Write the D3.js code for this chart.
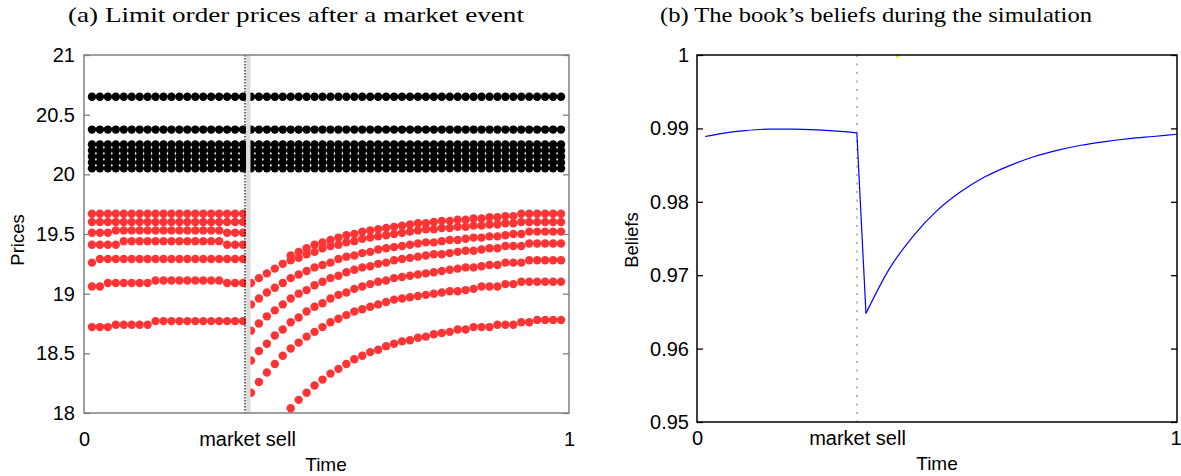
<!DOCTYPE html>
<html lang="en">
<head>
<meta charset="UTF-8"/>
<title>Limit order prices and the book's beliefs</title>
<script src="https://d3js.org/d3.v7.min.js"></script>
<style>
    body { margin: 0; background: #fff; }
    text { font-family: "Liberation Sans", Arial, sans-serif; fill: #000; }
    .title { font-family: "Liberation Serif", "DejaVu Serif", serif; }
</style>
</head>
<body>
<div id="chart"></div>
<script>

    // ---- panel (a): limit order prices, 60 time steps, market sell between step 19 and 20
    var nSteps = 60;
    var eventStep = 19.5;
    var askPrices = [20.05, 20.10, 20.15, 20.20, 20.25, 20.375, 20.65];

    // bid rows before the market sell (steps 0..19)
    var bidsBefore = [
        [19.67, 19.67, 19.67, 19.67, 19.67, 19.67, 19.67, 19.67, 19.67, 19.67, 19.67, 19.67, 19.67, 19.67, 19.67, 19.67, 19.67, 19.67, 19.67, 19.67],
        [19.60, 19.60, 19.60, 19.60, 19.60, 19.60, 19.60, 19.60, 19.60, 19.60, 19.60, 19.60, 19.60, 19.60, 19.60, 19.60, 19.60, 19.60, 19.60, 19.60],
        [19.51, 19.51, 19.51, 19.53, 19.53, 19.53, 19.53, 19.53, 19.53, 19.53, 19.53, 19.53, 19.53, 19.53, 19.53, 19.53, 19.53, 19.51, 19.51, 19.51],
        [19.41, 19.41, 19.41, 19.41, 19.44, 19.44, 19.44, 19.44, 19.44, 19.44, 19.44, 19.44, 19.44, 19.44, 19.44, 19.44, 19.44, 19.41, 19.41, 19.41],
        [19.26, 19.29, 19.29, 19.29, 19.29, 19.29, 19.29, 19.29, 19.29, 19.29, 19.29, 19.29, 19.29, 19.29, 19.29, 19.29, 19.29, 19.29, 19.29, 19.29],
        [19.06, 19.06, 19.09, 19.09, 19.09, 19.09, 19.09, 19.09, 19.11, 19.11, 19.11, 19.11, 19.11, 19.11, 19.11, 19.11, 19.11, 19.09, 19.09, 19.09],
        [18.72, 18.72, 18.72, 18.74, 18.74, 18.74, 18.74, 18.74, 18.77, 18.77, 18.77, 18.77, 18.77, 18.77, 18.77, 18.77, 18.77, 18.77, 18.77, 18.77]
    ];

    // bid rows after the market sell, with the step each row starts at
    var bidAfterStart = [25, 20, 20, 20, 20, 20, 25];
    var bidsAfter = [
        [19.32, 19.35, 19.38, 19.41, 19.43, 19.45, 19.47, 19.49, 19.50, 19.52, 19.53, 19.54, 19.55, 19.56, 19.57, 19.58, 19.59, 19.59, 19.60, 19.61, 19.61,
            19.62, 19.62, 19.63, 19.63, 19.64, 19.64, 19.65, 19.65, 19.67, 19.67, 19.67, 19.67, 19.67, 19.67],
        [19.09, 19.13, 19.17, 19.21, 19.25, 19.28, 19.30, 19.33, 19.35, 19.38, 19.40, 19.41, 19.43, 19.44, 19.46, 19.47, 19.48, 19.49, 19.50, 19.51, 19.52,
            19.53, 19.54, 19.54, 19.55, 19.55, 19.56, 19.56, 19.57, 19.57, 19.58, 19.58, 19.59, 19.59, 19.60, 19.60, 19.60, 19.60, 19.60, 19.60],
        [18.91, 18.96, 19.01, 19.05, 19.09, 19.13, 19.16, 19.19, 19.22, 19.24, 19.26, 19.29, 19.31, 19.32, 19.34, 19.35, 19.37, 19.38, 19.39, 19.40, 19.41,
            19.42, 19.43, 19.43, 19.44, 19.45, 19.45, 19.46, 19.47, 19.47, 19.48, 19.48, 19.49, 19.50, 19.50, 19.52, 19.52, 19.52, 19.52, 19.52],
        [18.69, 18.75, 18.81, 18.86, 18.91, 18.96, 19.00, 19.03, 19.07, 19.10, 19.13, 19.15, 19.18, 19.20, 19.22, 19.23, 19.25, 19.26, 19.28, 19.29, 19.30,
            19.31, 19.32, 19.33, 19.33, 19.34, 19.35, 19.36, 19.36, 19.37, 19.38, 19.38, 19.40, 19.40, 19.40, 19.42, 19.42, 19.42, 19.42, 19.42],
        [18.44, 18.52, 18.58, 18.65, 18.70, 18.76, 18.80, 18.85, 18.89, 18.92, 18.96, 18.99, 19.01, 19.04, 19.06, 19.08, 19.10, 19.11, 19.13, 19.14, 19.15,
            19.16, 19.17, 19.18, 19.19, 19.20, 19.21, 19.22, 19.22, 19.23, 19.24, 19.24, 19.26, 19.26, 19.26, 19.28, 19.28, 19.28, 19.28, 19.28],
        [18.17, 18.26, 18.34, 18.41, 18.48, 18.54, 18.59, 18.64, 18.68, 18.72, 18.76, 18.79, 18.82, 18.85, 18.87, 18.89, 18.91, 18.93, 18.95, 18.96, 18.97,
            18.98, 18.99, 19.00, 19.01, 19.02, 19.02, 19.03, 19.04, 19.06, 19.06, 19.06, 19.08, 19.08, 19.10, 19.10, 19.10, 19.10, 19.10, 19.10],
        [18.04, 18.11, 18.17, 18.23, 18.28, 18.33, 18.37, 18.41, 18.45, 18.48, 18.51, 18.53, 18.56, 18.58, 18.60, 18.61, 18.63, 18.64, 18.66, 18.67, 18.68,
            18.70, 18.70, 18.72, 18.72, 18.72, 18.74, 18.74, 18.74, 18.76, 18.76, 18.78, 18.78, 18.78, 18.78]
    ];

    var priceTicks = [18, 18.5, 19, 19.5, 20, 20.5, 21];
    var priceTickLabels = ["18", "18.5", "19", "19.5", "20", "20.5", "21"];

    // ---- panel (b): beliefs (index 7 = just before the sell, index 8 = the low point)
    var eventTime = 1 / 3;
    var beliefTime = [0.017, 0.05, 0.10, 0.15, 0.20, 0.25, 0.30, 0.333, 0.352, 0.40, 0.45, 0.50, 0.55, 0.60, 0.65, 0.70, 0.75, 0.80, 0.85, 0.90, 0.95, 1.00];
    var beliefValue = [0.9889, 0.9893, 0.9897, 0.9899, 0.9899, 0.9898, 0.9896, 0.9894, 0.9648, 0.9708, 0.9753, 0.9788, 0.9814, 0.9834, 0.9849, 0.9861, 0.9870, 0.9877, 0.9882, 0.9886, 0.9889, 0.9892];
    var yellowTime = [0.415, 0.421];
    var yellowValue = [0.9998, 0.9998];

    var beliefTicks = [0.95, 0.96, 0.97, 0.98, 0.99, 1];
    var beliefTickLabels = ["0.95", "0.96", "0.97", "0.98", "0.99", "1"];

    let width = 1181;
    let height = 476;

    var svg = d3.select("#chart").append("svg").attr("width", width).attr("height", height);

    // titles
    svg.append("text").attr("class", "title").attr("x", 296).attr("y", 22)
        .attr("text-anchor", "middle").style("font-size", "21.5px")
        .attr("textLength", 456).attr("lengthAdjust", "spacingAndGlyphs")
        .text("(a) Limit order prices after a market event");
    svg.append("text").attr("class", "title").attr("x", 876).attr("y", 22)
        .attr("text-anchor", "middle").style("font-size", "21.5px")
        .attr("textLength", 432).attr("lengthAdjust", "spacingAndGlyphs")
        .text("(b) The book\u2019s beliefs during the simulation");

    /**
     * left panel
     */
    var xLeft = d3.scaleLinear().domain([-1, nSteps]).range([84, 569]);
    var yLeft = d3.scaleLinear().domain([18, 21]).range([413, 55]);
    var left = svg.append("g");

    var asks = [];
    askPrices.forEach(function (p) {
        d3.range(nSteps).forEach(function (s) { asks.push([s, p]); });
    });
    var bids = [];
    bidsBefore.forEach(function (row) {
        row.forEach(function (p, s) { bids.push([s, p]); });
    });
    bidsAfter.forEach(function (row, r) {
        row.forEach(function (p, k) { bids.push([bidAfterStart[r] + k, p]); });
    });

    left.selectAll("circle.ask").data(asks).enter().append("circle").attr("class", "ask")
        .attr("cx", function (d) { return xLeft(d[0]); })
        .attr("cy", function (d) { return yLeft(d[1]); })
        .attr("r", 4.2).attr("fill", "#000");

    left.selectAll("circle.bid").data(bids).enter().append("circle").attr("class", "bid")
        .attr("cx", function (d) { return xLeft(d[0]); })
        .attr("cy", function (d) { return yLeft(d[1]); })
        .attr("r", 4.2).attr("fill", "#ff3333");

    // market sell marker: grey band + dotted line
    left.append("rect").attr("x", xLeft(eventStep) - 1).attr("y", yLeft(21))
        .attr("width", 4.5).attr("height", yLeft(18) - yLeft(21)).attr("fill", "#dcdcdc");
    left.append("line").attr("x1", xLeft(eventStep) - 2).attr("x2", xLeft(eventStep) - 2)
        .attr("y1", yLeft(21)).attr("y2", yLeft(18))
        .attr("stroke", "#000").attr("stroke-width", 1.2).attr("stroke-dasharray", "1.5,1.5");

    // frame
    left.append("rect").attr("x", 84).attr("y", 55).attr("width", 569 - 84).attr("height", 413 - 55)
        .attr("fill", "none").attr("stroke", "#808080").attr("stroke-width", 1.5);

    var yAxisL = d3.axisLeft(yLeft).tickValues(priceTicks).tickSizeInner(-6).tickSizeOuter(0).tickPadding(9)
        .tickFormat(function (d, i) { return priceTickLabels[i]; });
    var gyl = left.append("g").attr("transform", "translate(84,0)").call(yAxisL);
    var gyr = left.append("g").attr("transform", "translate(569,0)")
        .call(d3.axisRight(yLeft).tickValues(priceTicks).tickSizeInner(-6).tickSizeOuter(0).tickFormat(""));
    var xAxisL = d3.axisBottom(xLeft).tickValues([-1, eventStep, nSteps]).tickSize(0).tickPadding(19)
        .tickFormat(function (d) { return d === -1 ? "0" : (d === nSteps ? "1" : "market sell"); });
    var gxl = left.append("g").attr("transform", "translate(0,413)").call(xAxisL);
    [gyl, gyr, gxl].forEach(function (g) {
        g.select(".domain").remove();
        g.selectAll("line").attr("stroke", "#808080").attr("stroke-width", 1.3);
        g.selectAll("text").style("font-size", "20px").attr("fill", "#000");
    });

    left.append("text").attr("x", 326).attr("y", 471).attr("text-anchor", "middle")
        .style("font-size", "19px").text("Time");
    left.append("text").attr("transform", "translate(24,240) rotate(-90)").attr("text-anchor", "middle")
        .style("font-size", "18.5px").text("Prices");

    /**
     * right panel
     */
    var xRight = d3.scaleLinear().domain([0, 1]).range([697, 1177]);
    var yRight = d3.scaleLinear().domain([0.95, 1]).range([422, 55]);
    var right = svg.append("g");

    right.append("line").attr("x1", xRight(eventTime)).attr("x2", xRight(eventTime))
        .attr("y1", yRight(1)).attr("y2", yRight(0.95))
        .attr("stroke", "#888").attr("stroke-width", 1.2).attr("stroke-dasharray", "2,6.5");

    var beliefs = beliefTime.map(function (t, i) { return [t, beliefValue[i]]; });
    var smooth = d3.line()
        .x(function (d) { return xRight(d[0]); })
        .y(function (d) { return yRight(d[1]); })
        .curve(d3.curveMonotoneX);
    var straight = d3.line()
        .x(function (d) { return xRight(d[0]); })
        .y(function (d) { return yRight(d[1]); });
    // before the sell, the jump itself, and the recovery
    [[smooth, beliefs.slice(0, 8)], [straight, beliefs.slice(7, 9)], [smooth, beliefs.slice(8)]].forEach(function (p) {
        right.append("path").datum(p[1]).attr("d", p[0])
            .attr("fill", "none").attr("stroke", "#0000ff").attr("stroke-width", 1.2)
            .attr("stroke-linejoin", "miter");
    });

    var yellow = yellowTime.map(function (t, i) { return [t, yellowValue[i]]; });
    right.append("path").datum(yellow).attr("d", straight)
        .attr("fill", "none").attr("stroke", "#e8e800").attr("stroke-width", 2.5);

    right.append("rect").attr("x", 697).attr("y", 55).attr("width", 1177 - 697).attr("height", 422 - 55)
        .attr("fill", "none").attr("stroke", "#000").attr("stroke-width", 1.5);

    var yAxisR = d3.axisLeft(yRight).tickValues(beliefTicks).tickSizeInner(-6).tickSizeOuter(0).tickPadding(8)
        .tickFormat(function (d, i) { return beliefTickLabels[i]; });
    var gbl = right.append("g").attr("transform", "translate(697,0)").call(yAxisR);
    var gbr = right.append("g").attr("transform", "translate(1177,0)")
        .call(d3.axisRight(yRight).tickValues(beliefTicks).tickSizeInner(-6).tickSizeOuter(0).tickFormat(""));
    var xAxisR = d3.axisBottom(xRight).tickValues([0, eventTime, 1]).tickSize(0).tickPadding(9)
        .tickFormat(function (d) { return d === 0 ? "0" : (d === 1 ? "1" : "market sell"); });
    var gxr = right.append("g").attr("transform", "translate(0,422)").call(xAxisR);
    [gbl, gbr, gxr].forEach(function (g) {
        g.select(".domain").remove();
        g.selectAll("line").attr("stroke", "#000").attr("stroke-width", 1.3);
        g.selectAll("text").style("font-size", "20px").attr("fill", "#000");
    });
    // keep the last "1" inside the page
    gxr.selectAll(".tick").filter(function (d) { return d === 1; }).select("text")
        .attr("text-anchor", "end").attr("dx", "4");

    right.append("text").attr("x", 937).attr("y", 470).attr("text-anchor", "middle")
        .style("font-size", "19px").text("Time");
    right.append("text").attr("transform", "translate(638,240) rotate(-90)").attr("text-anchor", "middle")
        .style("font-size", "18.5px").text("Beliefs");

</script>
</body>
</html>
